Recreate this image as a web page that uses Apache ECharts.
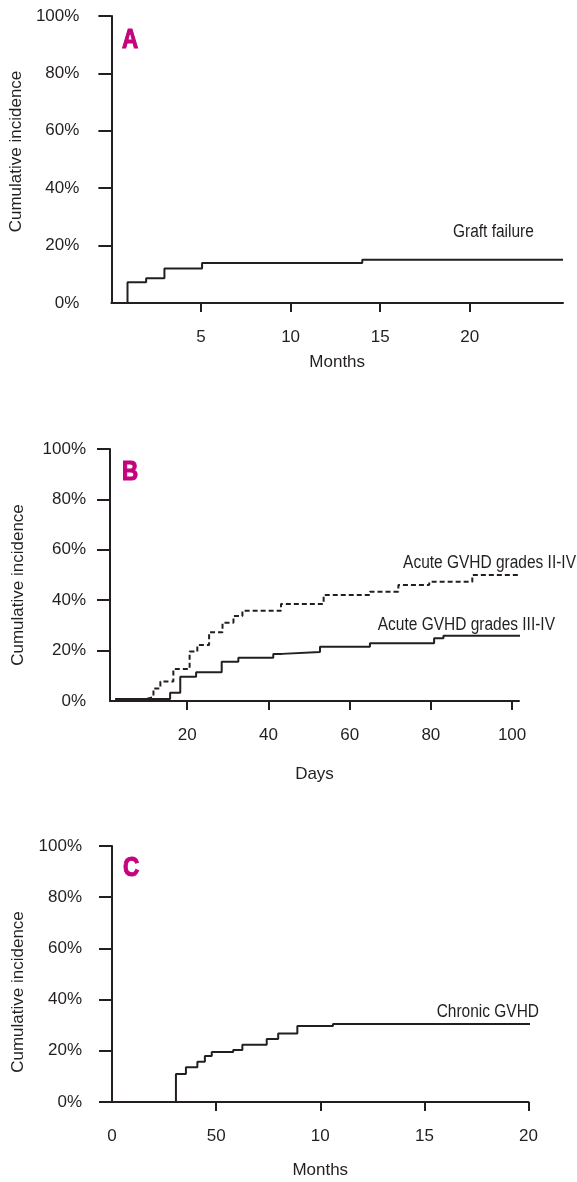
<!DOCTYPE html>
<html>
<head>
<meta charset="utf-8">
<script src="https://cdn.jsdelivr.net/npm/echarts@6/dist/echarts.min.js"></script>
<style>
    html, body { margin: 0; padding: 0; background: #fff; }
    #chart { width: 577px; height: 1182px; }
</style>
</head>
<body>
<div id="chart"></div>
<script>
// A: graft failure (months)
var graftMonths = [0, 0.9, 1.94, 2.96, 5.06, 14.0, 25.2];
var graftPct = [0, 7.2, 8.6, 12.0, 13.9, 15.1, 15.1];

// B: acute GVHD (days)
var acuteDaysII = [2.3, 9.9, 11.7, 13.4, 16.6, 20.6, 22.5, 25.4, 28.7, 31.4, 33.6, 43.1, 53.6, 65.0, 72.0, 79.6, 90.2, 116];
var acutePctII = [0.8, 1.5, 5.0, 7.7, 12.7, 19.6, 22.2, 27.3, 31.1, 33.7, 35.8, 38.5, 42.1, 43.4, 46.0, 47.3, 50.0, 50.0];
var acuteDaysIII = [2.3, 15.8, 18.3, 22.2, 28.5, 32.6, 41.2, 43.3, 52.7, 65.0, 80.8, 83.1, 116];
var acutePctIII = [0.8, 3.3, 9.6, 11.4, 15.6, 17.2, 18.7, 19.4, 21.5, 22.9, 24.9, 25.9, 25.9];

// C: chronic GVHD (months)
var chronicMonths = [0, 3.07, 3.55, 4.10, 4.46, 4.79, 5.82, 6.26, 7.43, 7.98, 8.90, 10.61, 21.65];
var chronicPct = [0, 10.9, 13.6, 15.7, 18.0, 19.5, 20.3, 22.4, 24.6, 26.8, 29.7, 30.5, 30.5];

// tick labels
var yTicks = [0, 20, 40, 60, 80, 100];
var monthTicksA = [5, 10, 15, 20];
var dayTicksB = [20, 40, 60, 80, 100];
var monthTicksC = [0, 5, 10, 15, 20];
var monthLabelsC = ['0', '50', '10', '15', '20'];

var ink = '#231f20';
var magenta = '#c4037d';
var font = "'Liberation Sans', Arial, sans-serif";

function pairs(xs, ys) {
    return xs.map(function (x, i) { return [x, ys[i]]; });
}

// zeroTick: C draws the 0% tick, A and B do not
function yAxisFor(grid, labelMargin, nameGap, namePad, zeroTick) {
    return {
        type: 'value',
        gridIndex: grid,
        min: 0,
        max: 100,
        interval: 20,
        name: 'Cumulative incidence',
        nameLocation: 'middle',
        nameGap: nameGap,
        nameTextStyle: { color: ink, fontFamily: font, fontSize: 17, padding: namePad },
        axisLine: { show: true, lineStyle: { color: ink, width: 2 } },
        axisTick: {
            show: true, length: 13, lineStyle: { color: ink, width: 2 },
            customValues: zeroTick ? yTicks : yTicks.slice(1)
        },
        axisLabel: {
            margin: labelMargin, color: ink, fontFamily: font, fontSize: 17,
            customValues: yTicks,
            formatter: '{value}%'
        },
        splitLine: { show: false }
    };
}

function xAxisFor(grid, min, max, ticks, labelFn, name, nameGap) {
    return {
        type: 'value',
        gridIndex: grid,
        min: min,
        max: max,
        name: name,
        nameLocation: 'middle',
        nameGap: nameGap,
        nameTextStyle: { color: ink, fontFamily: font, fontSize: 17 },
        axisLine: { onZero: false, lineStyle: { color: ink, width: 2 } },
        axisTick: { customValues: ticks.filter(function (t) { return t > 0; }), length: 9, lineStyle: { color: ink, width: 2 } },
        axisLabel: {
            customValues: ticks, margin: 26, color: ink, fontFamily: font, fontSize: 17,
            formatter: labelFn
        },
        splitLine: { show: false }
    };
}

function stepLine(x, y, xs, ys, dashed) {
    return {
        type: 'line',
        xAxisIndex: x,
        yAxisIndex: y,
        step: 'end',
        symbol: 'none',
        clip: false,
        silent: true,
        lineStyle: { color: ink, width: 2, type: dashed ? [5, 3] : 'solid' },
        data: pairs(xs, ys)
    };
}

// condensed look: no narrow font installed, so squeeze horizontally
function note(text, x, y, size, color, bold, align, squeeze) {
    return {
        type: 'text',
        x: x,
        y: y,
        scaleX: squeeze || 0.86,
        style: {
            text: text,
            fill: color,
            stroke: bold ? color : null,
            lineWidth: bold ? 1.2 : 0,
            font: (bold ? 'bold ' : '') + size + 'px ' + font,
            textAlign: align || 'left',
            textVerticalAlign: 'middle'
        }
    };
}

var chart = echarts.init(document.getElementById('chart'));
var option = {
    animation: false,
    grid: [
        { left: 110, top: 16, width: 453, height: 287 },
        { left: 110, top: 449, width: 409, height: 252 },
        { left: 112, top: 846, width: 416.5, height: 256 }
    ],
    xAxis: [
        xAxisFor(0, 0, 25.2, monthTicksA, '{value}', 'Months', 51),
        xAxisFor(1, 1, 101.7, dayTicksB, '{value}', 'Days', 65),
        xAxisFor(2, 0, 20, monthTicksC, function (v) {
            return monthLabelsC[monthTicksC.indexOf(v)];
        }, 'Months', 60)
    ],
    yAxis: [
        yAxisFor(0, 32, 83, [0, 0, 0, 16], false),
        yAxisFor(1, 24, 83, [0, 20, 0, 0], false),
        yAxisFor(2, 30, 85, [0, 36, 0, 0], true)
    ],
    series: [
        stepLine(0, 0, graftMonths, graftPct, false),
        stepLine(1, 1, acuteDaysII, acutePctII, true),
        stepLine(1, 1, acuteDaysIII, acutePctIII, false),
        stepLine(2, 2, chronicMonths, chronicPct, false)
    ],
    graphic: [
        note('A', 122, 40, 28, magenta, true, 'left', 0.8),
        note('B', 122, 472, 28, magenta, true, 'left', 0.8),
        note('C', 123, 868, 28, magenta, true, 'left', 0.8),
        note('Graft failure', 453, 232, 18, ink),
        note('Acute GVHD grades II-IV', 576, 563, 18, ink, false, 'right'),
        note('Acute GVHD grades III-IV', 555, 625, 18, ink, false, 'right'),
        note('Chronic GVHD', 539, 1012, 18, ink, false, 'right')
    ]
};
chart.setOption(option);
</script>
</body>
</html>
